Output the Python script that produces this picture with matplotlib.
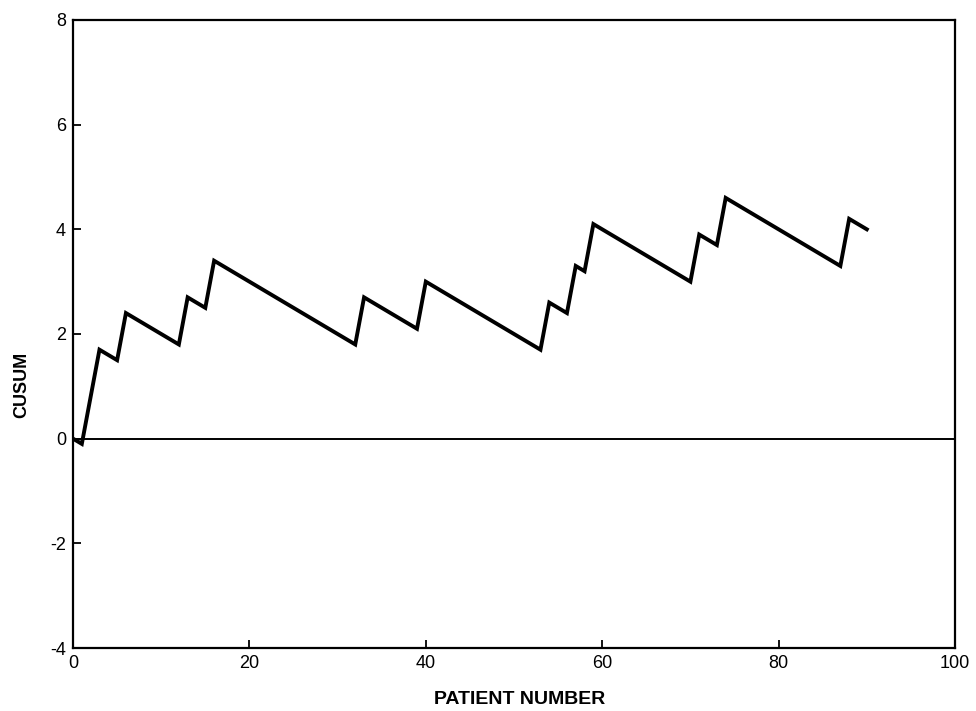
import matplotlib
matplotlib.use("Agg")
import matplotlib.pyplot as plt

# Vertices of the CUSUM path
patient = [0, 1, 3, 5, 6, 12, 13, 15, 16, 32, 33, 39, 40, 53, 54, 56, 57, 58,
           59, 70, 71, 73, 74, 87, 88, 90]
cusum = [0.0, -0.1, 1.7, 1.5, 2.4, 1.8, 2.7, 2.5, 3.4, 1.8, 2.7, 2.1, 3.0, 1.7,
         2.6, 2.4, 3.3, 3.2, 4.1, 3.0, 3.9, 3.7, 4.6, 3.3, 4.2, 4.0]

x_ticks = [0, 20, 40, 60, 80, 100]
y_ticks = [-4, -2, 0, 2, 4, 6, 8]

plt.rcParams['font.family'] = ['Liberation Sans', 'DejaVu Sans']

fig = plt.figure(figsize=(9.76, 7.11), dpi=100)
ax = fig.add_axes([0.0748, 0.0886, 0.9037, 0.8833])

ax.axhline(0, color='black', lw=1.4, zorder=1)
ax.plot(patient, cusum, color='black', lw=2.8, solid_joinstyle='miter', zorder=2)

ax.set_xlim(0, 100)
ax.set_ylim(-4, 8)
ax.set_xticks(x_ticks)
ax.set_yticks(y_ticks)
ax.set_xticklabels([str(v) for v in x_ticks])
ax.set_yticklabels([str(v) for v in y_ticks])
ax.tick_params(direction='in', length=6, width=1.3, labelsize=13, pad=5)

for s in ax.spines.values():
    s.set_linewidth(1.6)

ax.set_xlabel('PATIENT NUMBER', fontsize=14, fontweight='bold')
ax.set_ylabel('CUSUM', fontsize=13, fontweight='bold')
ax.xaxis.set_label_coords(0.506, -0.068)
ax.yaxis.set_label_coords(-0.049, 0.419)

fig.savefig('out.png', dpi=100)
